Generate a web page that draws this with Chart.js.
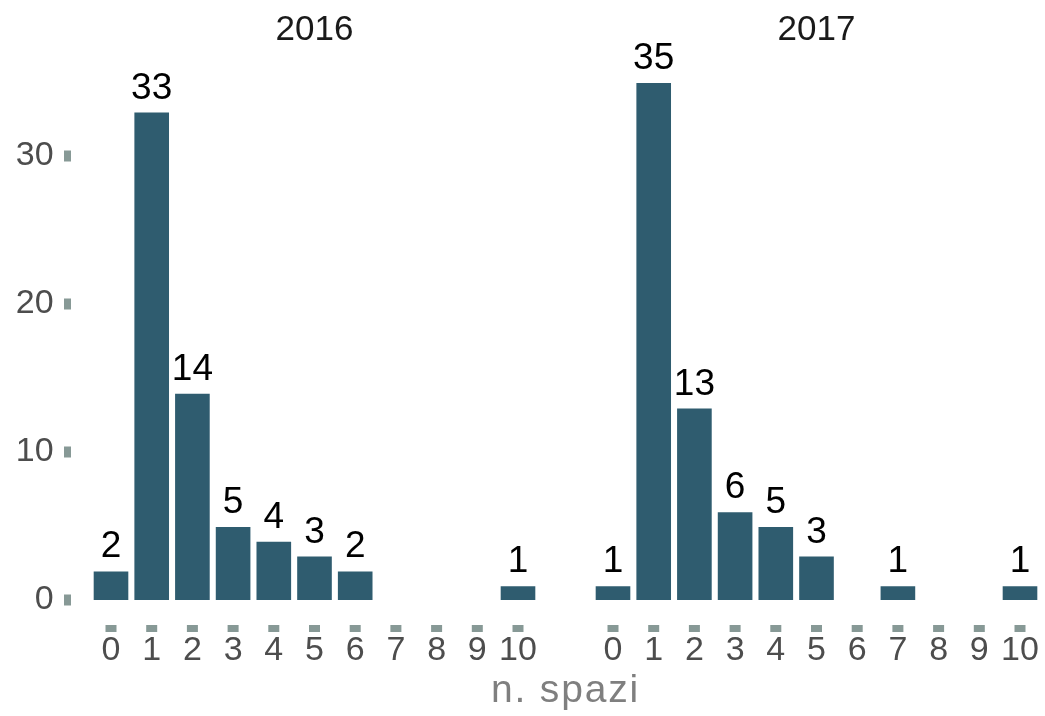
<!DOCTYPE html>
<html><head><meta charset="utf-8">
<script src="https://cdn.jsdelivr.net/npm/chart.js@4"></script>
<style>
html,body{margin:0;padding:0;background:#fff;}
#wrap{position:relative;width:1045px;height:716px;overflow:hidden;background:#fff;}
canvas{position:absolute;top:0;}
#c1{left:0;}
#c2{left:560px;}
#xt{position:absolute;left:0;width:1131px;top:667px;height:44px;line-height:44px;text-align:center;
font-family:"Liberation Sans",Arial,sans-serif;font-size:39px;letter-spacing:1.8px;color:#7f7f7f;}
</style>
</head><body>
<div id="wrap">
<canvas id="c1" width="560" height="716"></canvas>
<canvas id="c2" width="485" height="716"></canvas>
<div id="xt">n. spazi</div>
</div>
<script>
const categories = ['0','1','2','3','4','5','6','7','8','9','10'];
const panelTitles = ['2016', '2017'];
const values2016 = [2, 33, 14, 5, 4, 3, 2, 0, 0, 0, 1];
const values2017 = [1, 35, 13, 6, 5, 3, 0, 1, 0, 0, 1];
const yTickValues = [0, 10, 20, 30];

const FONT = '"Liberation Sans", Arial, sans-serif';
const BAR = '#2f5c6f';
const TICK = '#879996';

const marks = {
  id: 'marks',
  afterDatasetsDraw(chart) {
    const ctx = chart.ctx;
    const xs = chart.scales.x;
    ctx.save();
    ctx.fillStyle = TICK;
    xs.ticks.forEach((t, i) => {
      const px = xs.getPixelForTick(i);
      ctx.fillRect(px - 5.5, 625, 11, 7);
    });
    const ys = chart.scales.y;
    if (ys.options.display) {
      yTickValues.forEach(v => {
        const py = ys.getPixelForValue(v);
        ctx.fillRect(64, py - 5.5, 7, 11);
      });
    }
    ctx.fillStyle = '#000';
    ctx.font = '37px ' + FONT;
    ctx.textAlign = 'center';
    ctx.textBaseline = 'alphabetic';
    const meta = chart.getDatasetMeta(0);
    const data = chart.data.datasets[0].data;
    meta.data.forEach((bar, i) => {
      if (data[i] > 0) ctx.fillText(String(data[i]), bar.x, bar.y - 13);
    });
    ctx.restore();
  }
};

function makeChart(id, title, values, showY, padLeft, padRight) {
  return new Chart(document.getElementById(id), {
    type: 'bar',
    data: {
      labels: categories,
      datasets: [{
        data: values,
        backgroundColor: BAR,
        borderColor: '#ffffff',
        borderWidth: 1,
        barPercentage: 0.9,
        categoryPercentage: 1.0
      }]
    },
    options: {
      responsive: false,
      animation: false,
      devicePixelRatio: 1,
      layout: { padding: { left: padLeft, right: padRight, top: 0, bottom: 0 } },
      plugins: {
        legend: { display: false },
        tooltip: { enabled: false },
        title: {
          display: true,
          text: title,
          fullSize: false,
          color: '#1a1a1a',
          font: { family: FONT, size: 35, weight: 'normal', lineHeight: 1.2 },
          padding: { top: 9, bottom: 16.2 }
        }
      },
      scales: {
        x: {
          offset: true,
          grid: { display: false, drawTicks: false },
          border: { display: false },
          ticks: {
            color: '#4d4d4d',
            font: { family: FONT, size: 34, lineHeight: 3.0 },
            padding: 0,
            maxRotation: 0,
            autoSkip: false
          },
          afterFit(s) { s.height = 116; }
        },
        y: {
          display: showY,
          min: 0,
          max: 36,
          grid: { display: false, drawTicks: false },
          border: { display: false },
          ticks: {
            color: '#4d4d4d',
            font: { family: FONT, size: 34, lineHeight: 1.2 },
            padding: 37
          },
          afterBuildTicks(s) { s.ticks = yTickValues.map(v => ({ value: v })); },
          afterFit(s) { s.width = showY ? 90.65 : 0; }
        }
      }
    },
    plugins: [marks]
  });
}

makeChart('c1', panelTitles[0], values2016, true, 0, 21.65);
makeChart('c2', panelTitles[1], values2017, false, 32.65, 4.65);
</script>
</body></html>
